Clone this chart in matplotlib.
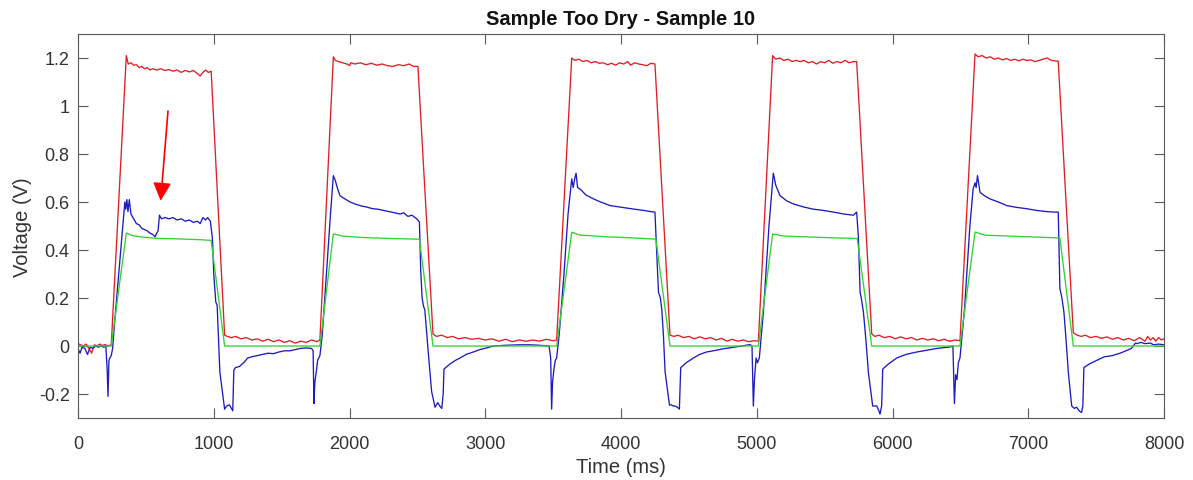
import matplotlib
matplotlib.use("Agg")
import matplotlib.pyplot as plt

# ---------------- data ----------------
red_t = [0, 20, 40, 60, 80, 100, 120, 140, 160, 180, 200, 220, 245,
         356, 370, 390, 410, 430, 450, 470, 490, 510, 530, 550, 580, 610, 640, 670, 700,
         730, 760, 790, 820, 850, 880, 900, 920, 940, 960, 981,
         1080, 1100, 1130, 1160, 1200, 1240, 1280, 1320, 1360, 1400, 1440, 1480, 1520,
         1560, 1600, 1640, 1680, 1720, 1760, 1782,
         1881, 1895, 1920, 1950, 1980, 2000, 2010, 2040, 2080, 2120, 2160, 2200, 2240,
         2280, 2320, 2360, 2400, 2440, 2470, 2504,
         2615, 2640, 2680, 2720, 2760, 2800, 2850, 2900, 2950, 3000, 3050, 3100, 3150,
         3200, 3250, 3300, 3350, 3400, 3450, 3500, 3526,
         3637, 3660, 3690, 3720, 3750, 3780, 3810, 3840, 3870, 3900, 3930, 3960, 3990,
         4020, 4050, 4070, 4100, 4130, 4160, 4190, 4220, 4250,
         4361, 4390, 4420, 4460, 4500, 4540, 4580, 4620, 4660, 4700, 4740, 4780, 4820,
         4860, 4900, 4940, 4980, 5012,
         5117, 5140, 5170, 5200, 5230, 5260, 5290, 5320, 5350, 5380, 5410, 5440, 5470,
         5500, 5530, 5560, 5590, 5620, 5650, 5680, 5710, 5736,
         5847, 5870, 5900, 5940, 5980, 6020, 6060, 6100, 6140, 6180, 6220, 6260, 6300,
         6340, 6380, 6420, 6460, 6497,
         6608, 6630, 6660, 6690, 6720, 6750, 6780, 6810, 6840, 6870, 6900, 6930, 6960,
         6990, 7020, 7050, 7080, 7110, 7140, 7170, 7200, 7221,
         7332, 7360, 7390, 7420, 7460, 7500, 7540, 7580, 7620, 7660, 7700, 7740, 7780,
         7820, 7860, 7880, 7900, 7920, 7940, 7960, 7980, 8000]
red_v = [0.010, 0.005, 0.000, 0.008, -0.010, -0.030, 0.005, 0.000, 0.008, 0.002, 0.006, 0.000, 0.005,
         1.210, 1.175, 1.180, 1.170, 1.172, 1.160, 1.165, 1.155, 1.160, 1.150, 1.155, 1.150, 1.155, 1.148, 1.152, 1.145,
         1.150, 1.140, 1.148, 1.142, 1.148, 1.135, 1.125, 1.140, 1.150, 1.140, 1.145,
         0.045, 0.040, 0.035, 0.040, 0.030, 0.035, 0.025, 0.030, 0.020, 0.028, 0.018, 0.025, 0.015,
         0.022, 0.012, 0.020, 0.015, 0.025, 0.018, 0.025,
         1.205, 1.190, 1.185, 1.180, 1.175, 1.168, 1.180, 1.175, 1.180, 1.172, 1.178, 1.170, 1.175,
         1.168, 1.165, 1.172, 1.168, 1.175, 1.165, 1.165,
         0.050, 0.040, 0.045, 0.035, 0.040, 0.030, 0.035, 0.028, 0.032, 0.025, 0.030, 0.020, 0.028,
         0.018, 0.025, 0.020, 0.025, 0.020, 0.028, 0.022, 0.025,
         1.200, 1.190, 1.195, 1.185, 1.190, 1.180, 1.185, 1.178, 1.180, 1.172, 1.178, 1.170, 1.180,
         1.175, 1.185, 1.170, 1.180, 1.175, 1.172, 1.168, 1.178, 1.175,
         0.045, 0.040, 0.045, 0.035, 0.040, 0.030, 0.038, 0.030, 0.035, 0.025, 0.032, 0.020, 0.028,
         0.020, 0.025, 0.018, 0.022, 0.020,
         1.210, 1.195, 1.200, 1.190, 1.195, 1.185, 1.190, 1.185, 1.190, 1.180, 1.185, 1.175, 1.185,
         1.180, 1.190, 1.178, 1.185, 1.180, 1.190, 1.180, 1.185, 1.185,
         0.050, 0.040, 0.045, 0.035, 0.040, 0.030, 0.038, 0.030, 0.035, 0.025, 0.032, 0.025, 0.030,
         0.022, 0.028, 0.020, 0.025, 0.022,
         1.217, 1.205, 1.210, 1.200, 1.205, 1.195, 1.200, 1.192, 1.198, 1.190, 1.195, 1.188, 1.195,
         1.190, 1.192, 1.185, 1.190, 1.195, 1.200, 1.190, 1.188, 1.186,
         0.055, 0.045, 0.040, 0.045, 0.035, 0.040, 0.032, 0.038, 0.028, 0.035, 0.025, 0.032, 0.022,
         0.035, 0.020, 0.040, 0.025, 0.035, 0.020, 0.035, 0.025, 0.030]

green_t = [0, 245, 356, 400, 500, 600, 700, 800, 900, 981, 1080,
           1782, 1881, 1950, 2100, 2300, 2515, 2615,
           3526, 3637, 3700, 3900, 4100, 4257, 4361,
           5012, 5117, 5200, 5400, 5600, 5740, 5847,
           6497, 6608, 6680, 6900, 7100, 7233, 7332, 8000]
green_v = [0.0, 0.0, 0.471, 0.460, 0.452, 0.448, 0.447, 0.445, 0.443, 0.440, 0.0,
           0.0, 0.467, 0.458, 0.452, 0.448, 0.445, 0.0,
           0.0, 0.474, 0.462, 0.455, 0.450, 0.445, 0.0,
           0.0, 0.467, 0.458, 0.454, 0.450, 0.448, 0.0,
           0.0, 0.475, 0.462, 0.457, 0.453, 0.450, 0.0, 0.0]

blue_t = [0, 15, 30, 50, 70, 90, 110, 130, 150, 170, 190, 205, 215, 221, 228, 235, 245, 255,
          270, 300, 330, 345, 352, 360, 368, 378, 390, 410, 430, 450, 470, 490, 510, 530, 550,
          568, 580, 590, 600, 615, 640, 670, 700, 730, 760, 790, 820, 850, 880, 900, 920, 940,
          955, 975, 990, 1000, 1015, 1025, 1045, 1080, 1095, 1115, 1130, 1140, 1148, 1160,
          1190, 1220, 1250, 1280, 1320, 1360, 1400, 1440, 1480, 1520, 1560, 1600, 1640, 1680,
          1720, 1732, 1738, 1745, 1757, 1765, 1782, 1800, 1830, 1860, 1881, 1895, 1915, 1930,
          1960, 2004, 2050, 2090, 2127, 2170, 2210, 2250, 2290, 2330, 2372, 2400, 2430, 2460,
          2495, 2515, 2525, 2535, 2544, 2555, 2565, 2580, 2605, 2630, 2650, 2665, 2680, 2690,
          2696, 2740, 2780, 2814, 2860, 2912, 2960, 3010, 3060, 3150, 3250, 3330, 3400, 3470,
          3482, 3489, 3496, 3506, 3516, 3526, 3545, 3580, 3610, 3637, 3648, 3660, 3669, 3680,
          3699, 3740, 3797, 3850, 3920, 3980, 4043, 4100, 4166, 4220, 4250, 4264, 4276, 4290,
          4300, 4312, 4325, 4357, 4370, 4385, 4398, 4415, 4430, 4440, 4480, 4533, 4580, 4630,
          4680, 4750, 4820, 4890, 4950, 4965, 4975, 4983, 4995, 5005, 5019, 5050, 5090, 5122,
          5140, 5171, 5220, 5270, 5340, 5417, 5490, 5564, 5640, 5712, 5736, 5749, 5761, 5770,
          5786, 5805, 5822, 5854, 5870, 5884, 5900, 5908, 5920, 5928, 5970, 6031, 6100, 6178,
          6250, 6330, 6424, 6445, 6456, 6465, 6475, 6485, 6497, 6530, 6570, 6594, 6608, 6616,
          6626, 6645, 6680, 6718, 6780, 6841, 6910, 6989, 7060, 7136, 7190, 7221, 7233, 7248,
          7263, 7278, 7295, 7320, 7340, 7356, 7375, 7393, 7402, 7410, 7450, 7504, 7560, 7620,
          7676, 7720, 7760, 7790, 7800, 7830, 7860, 7900, 7922, 7960, 8000]
blue_v = [-0.010, -0.030, -0.005, -0.010, -0.035, -0.005, -0.010, 0.000, -0.005, 0.000, -0.005, 0.000,
          -0.100, -0.210, -0.060, -0.050, -0.040, -0.010,
          0.100, 0.300, 0.500, 0.600, 0.570, 0.610, 0.560, 0.610, 0.550, 0.530, 0.510, 0.505, 0.490,
          0.485, 0.480, 0.470, 0.465,
          0.455, 0.470, 0.480, 0.545, 0.530, 0.535, 0.530, 0.535, 0.525, 0.530, 0.520, 0.525, 0.515,
          0.520, 0.510, 0.535, 0.525,
          0.535, 0.520, 0.450, 0.300, 0.183, 0.170, -0.108, -0.263, -0.250, -0.245, -0.260, -0.270,
          -0.100, -0.090,
          -0.085, -0.070, -0.050, -0.045, -0.040, -0.035, -0.030, -0.032, -0.025, -0.020, -0.020,
          -0.015, -0.010, -0.008,
          -0.010, -0.020, -0.240, -0.150, -0.100, -0.060, -0.040, 0.050, 0.300, 0.550, 0.710, 0.690,
          0.650, 0.626,
          0.615, 0.600, 0.590, 0.583, 0.579, 0.572, 0.570, 0.565, 0.560, 0.555, 0.550, 0.555, 0.540,
          0.545,
          0.530, 0.517, 0.310, 0.200, 0.168, 0.150, 0.080, -0.025, -0.190, -0.255, -0.236, -0.250,
          -0.260, -0.200,
          -0.096, -0.075, -0.060, -0.050, -0.035, -0.025, -0.015, -0.008, 0.000, 0.003, 0.005, 0.005,
          0.003, 0.000,
          -0.050, -0.263, -0.150, -0.096, -0.060, -0.050, 0.050, 0.300, 0.550, 0.696, 0.660, 0.700,
          0.720, 0.660,
          0.654, 0.630, 0.613, 0.600, 0.585, 0.580, 0.575, 0.570, 0.565, 0.560, 0.558, 0.375, 0.225,
          0.200,
          0.155, 0.050, -0.108, -0.246, -0.245, -0.250, -0.250, -0.255, -0.263, -0.090, -0.070,
          -0.050, -0.035, -0.025,
          -0.020, -0.012, -0.006, 0.000, 0.006, 0.000, -0.250, -0.140, -0.050, -0.070, -0.050, 0.150,
          0.500, 0.720,
          0.670, 0.627, 0.605, 0.592, 0.580, 0.570, 0.565, 0.558, 0.550, 0.545, 0.558, 0.450, 0.225,
          0.200,
          0.140, 0.020, -0.108, -0.250, -0.250, -0.250, -0.270, -0.284, -0.250, -0.096, -0.075,
          -0.050, -0.035, -0.025,
          -0.018, -0.010, -0.004, 0.000, -0.240, -0.120, -0.140, -0.070, -0.050, 0.150, 0.500, 0.655,
          0.680, 0.660,
          0.710, 0.640, 0.625, 0.613, 0.600, 0.585, 0.578, 0.572, 0.565, 0.560, 0.558, 0.558, 0.240,
          0.200,
          0.140, 0.030, -0.108, -0.250, -0.260, -0.255, -0.270, -0.277, -0.250, -0.090, -0.075,
          -0.060, -0.045, -0.040,
          -0.030, -0.020, -0.010, 0.012, 0.010, 0.015, 0.010, 0.012, 0.005, 0.008, 0.005]

title_text = "Sample Too Dry - Sample 10"
xlabel_text = "Time (ms)"
ylabel_text = "Voltage (V)"
xticks = [0, 1000, 2000, 3000, 4000, 5000, 6000, 7000, 8000]
yticks = [-0.2, 0, 0.2, 0.4, 0.6, 0.8, 1.0, 1.2]
ytick_labels = ["-0.2", "0", "0.2", "0.4", "0.6", "0.8", "1", "1.2"]
arrow_tail = (663, 0.979)
arrow_tip = (609, 0.605)

# ---------------- figure ----------------
plt.rcParams['font.family'] = ['Liberation Sans', 'DejaVu Sans']
fig = plt.figure(figsize=(11.93, 4.81), dpi=100)
ax = fig.add_axes([78 / 1193, 1 - 419 / 481, (1164 - 78) / 1193, (419 - 35) / 481])

ax.plot(red_t, red_v, color='#e01e24', lw=0.95)
ax.plot(blue_t, blue_v, color='#1c1cc0', lw=0.95)
ax.plot(green_t, green_v, color='#2fd42f', lw=0.95)

ax.annotate('', xy=arrow_tip, xytext=arrow_tail,
            arrowprops=dict(arrowstyle='-|>,head_length=1.1,head_width=0.55',
                            color='#ff0000', lw=1.2, mutation_scale=10,
                            shrinkA=0, shrinkB=0))

ax.set_xlim(0, 8000)
ax.set_ylim(-0.3, 1.3)
ax.set_xticks(xticks)
ax.set_xticklabels([str(x) for x in xticks])
ax.set_yticks(yticks)
ax.set_yticklabels(ytick_labels)

txt = '#333333'
for s in ax.spines.values():
    s.set_color('#5a5a5a')
    s.set_linewidth(0.8)
ax.tick_params(direction='in', length=7, width=0.8, colors='#5a5a5a',
               labelcolor=txt, labelsize=13, top=True, right=True)
ax.tick_params(axis='x', pad=12)
ax.tick_params(axis='y', pad=6)

ax.set_title(title_text, fontsize=14.5, fontweight='bold', color='#111111', pad=7)
ax.set_xlabel(xlabel_text, fontsize=14.5, color=txt, labelpad=4)
ax.set_ylabel(ylabel_text, fontsize=14.5, color=txt, labelpad=5)

fig.savefig('out.png', dpi=100)
